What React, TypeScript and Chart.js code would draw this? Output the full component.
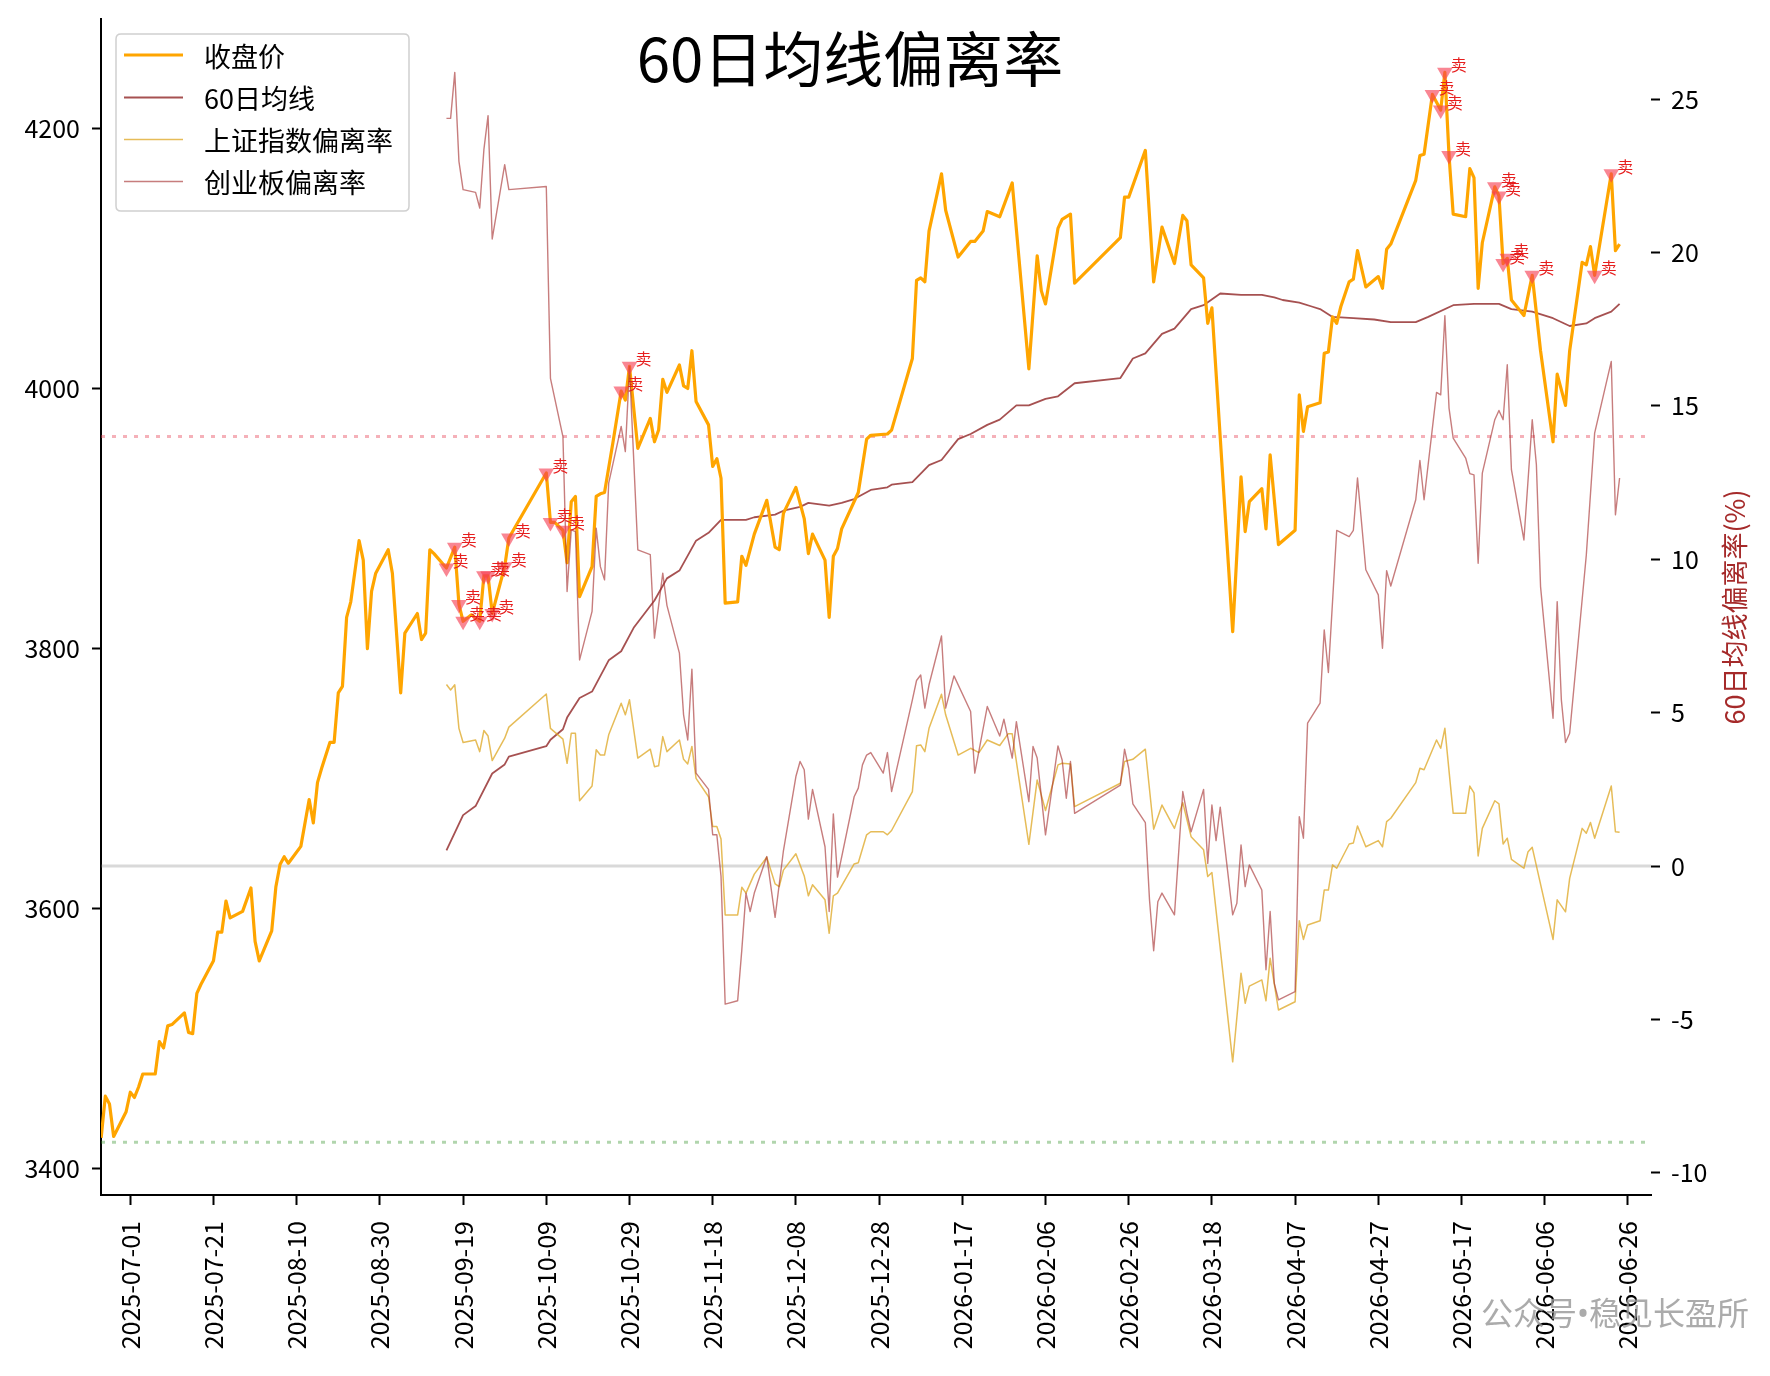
import React, { useEffect, useRef } from 'react';
import { Chart, registerables } from 'chart.js';

Chart.register(...registerables);

const FONT = '"Noto Sans CJK SC", "Noto Sans", sans-serif';
const WM_FONT = '"Noto Sans", "Noto Sans CJK SC", sans-serif';

// ---------------- data ----------------
const xTickLabels = [
  '2025-07-01', '2025-07-21', '2025-08-10', '2025-08-30', '2025-09-19', '2025-10-09',
  '2025-10-29', '2025-11-18', '2025-12-08', '2025-12-28', '2026-01-17', '2026-02-06',
  '2026-02-26', '2026-03-18', '2026-04-07', '2026-04-27', '2026-05-17', '2026-06-06', '2026-06-26',
];
const leftTicks = [3400, 3600, 3800, 4000, 4200];
const rightTicks = [-10, -5, 0, 5, 10, 15, 20, 25];

const closeDates = [
  '2025-06-24', '2025-06-25', '2025-06-26', '2025-06-27', '2025-06-30', '2025-07-01', '2025-07-02', '2025-07-03',
  '2025-07-04', '2025-07-07', '2025-07-08', '2025-07-09', '2025-07-10', '2025-07-11', '2025-07-14', '2025-07-15',
  '2025-07-16', '2025-07-17', '2025-07-18', '2025-07-21', '2025-07-22', '2025-07-23', '2025-07-24', '2025-07-25',
  '2025-07-28', '2025-07-30', '2025-07-31', '2025-08-01', '2025-08-04', '2025-08-05', '2025-08-06', '2025-08-07',
  '2025-08-08', '2025-08-11', '2025-08-13', '2025-08-14', '2025-08-15', '2025-08-16', '2025-08-18', '2025-08-19',
  '2025-08-20', '2025-08-21', '2025-08-22', '2025-08-23', '2025-08-25', '2025-08-26', '2025-08-27', '2025-08-28',
  '2025-08-29', '2025-09-01', '2025-09-02', '2025-09-04', '2025-09-05', '2025-09-08', '2025-09-09', '2025-09-10',
  '2025-09-11', '2025-09-12', '2025-09-15', '2025-09-17', '2025-09-18', '2025-09-19', '2025-09-21', '2025-09-23',
  '2025-09-24', '2025-09-25', '2025-09-26', '2025-09-29', '2025-09-30', '2025-10-09', '2025-10-10', '2025-10-11',
  '2025-10-13', '2025-10-14', '2025-10-15', '2025-10-16', '2025-10-17', '2025-10-20', '2025-10-21', '2025-10-22',
  '2025-10-23', '2025-10-25', '2025-10-27', '2025-10-28', '2025-10-29', '2025-10-31', '2025-11-03', '2025-11-04',
  '2025-11-05', '2025-11-06', '2025-11-07', '2025-11-10', '2025-11-11', '2025-11-12', '2025-11-13', '2025-11-14',
  '2025-11-17', '2025-11-18', '2025-11-19', '2025-11-20', '2025-11-21', '2025-11-24', '2025-11-25', '2025-11-26',
  '2025-11-28', '2025-12-01', '2025-12-03', '2025-12-04', '2025-12-05', '2025-12-08', '2025-12-10', '2025-12-11',
  '2025-12-12', '2025-12-15', '2025-12-16', '2025-12-17', '2025-12-18', '2025-12-19', '2025-12-23', '2025-12-25',
  '2025-12-26', '2025-12-30', '2025-12-31', '2026-01-05', '2026-01-06', '2026-01-07', '2026-01-08', '2026-01-09',
  '2026-01-12', '2026-01-13', '2026-01-16', '2026-01-19', '2026-01-20', '2026-01-22', '2026-01-23', '2026-01-26',
  '2026-01-29', '2026-02-02', '2026-02-04', '2026-02-05', '2026-02-06', '2026-02-09', '2026-02-10', '2026-02-12',
  '2026-02-13', '2026-02-24', '2026-02-25', '2026-02-26', '2026-02-28', '2026-03-02', '2026-03-04', '2026-03-06',
  '2026-03-09', '2026-03-11', '2026-03-12', '2026-03-13', '2026-03-16', '2026-03-17', '2026-03-18', '2026-03-23',
  '2026-03-25', '2026-03-26', '2026-03-27', '2026-03-30', '2026-03-31', '2026-04-01', '2026-04-03', '2026-04-07',
  '2026-04-08', '2026-04-09', '2026-04-10', '2026-04-13', '2026-04-14', '2026-04-15', '2026-04-16', '2026-04-17',
  '2026-04-18', '2026-04-20', '2026-04-21', '2026-04-22', '2026-04-24', '2026-04-27', '2026-04-28', '2026-04-29',
  '2026-04-30', '2026-05-06', '2026-05-07', '2026-05-08', '2026-05-10', '2026-05-12', '2026-05-13', '2026-05-14',
  '2026-05-15', '2026-05-18', '2026-05-19', '2026-05-20', '2026-05-21', '2026-05-22', '2026-05-25', '2026-05-26',
  '2026-05-27', '2026-05-28', '2026-05-29', '2026-06-01', '2026-06-03', '2026-06-05', '2026-06-08', '2026-06-09',
  '2026-06-11', '2026-06-12', '2026-06-15', '2026-06-16', '2026-06-17', '2026-06-18', '2026-06-22', '2026-06-23',
  '2026-06-24',
];
const closeValues = [
  3424, 3456, 3450, 3425, 3444, 3459, 3455, 3463,
  3473, 3473, 3498, 3493, 3510, 3511, 3520, 3505,
  3504, 3535, 3542, 3560, 3582, 3582, 3606, 3593,
  3598, 3616, 3575, 3560, 3583, 3617, 3634, 3640,
  3635, 3648, 3684, 3666, 3697, 3708, 3728, 3728,
  3766, 3771, 3824, 3836, 3883, 3868, 3800, 3844,
  3858, 3876, 3858, 3766, 3812, 3827, 3807, 3812,
  3876, 3873, 3862, 3878, 3834, 3821, 3826, 3821,
  3856, 3856, 3827, 3863, 3885, 3935, 3897, 3897,
  3891, 3866, 3913, 3917, 3840, 3863, 3917, 3919,
  3920, 3958, 3998, 3991, 4017, 3954, 3977, 3959,
  3968, 4007, 3997, 4018, 4002, 4000, 4029, 3990,
  3972, 3940, 3946, 3931, 3835, 3836, 3871, 3864,
  3888, 3914, 3878, 3876, 3904, 3924, 3900, 3873,
  3888, 3868, 3824, 3871, 3877, 3892, 3920, 3961,
  3964, 3965, 3968, 4023, 4083, 4085, 4082, 4121,
  4165, 4137, 4101, 4113, 4113, 4121, 4136, 4132,
  4158, 4015, 4102, 4075, 4065, 4123, 4130, 4134,
  4081, 4116, 4147, 4147, 4165, 4183, 4082, 4124,
  4096, 4133, 4129, 4095, 4085, 4050, 4062, 3813,
  3932, 3890, 3913, 3923, 3892, 3949, 3880, 3891,
  3995, 3967, 3986, 3989, 4027, 4028, 4055, 4050,
  4063, 4082, 4084, 4106, 4078, 4086, 4077, 4107,
  4111, 4160, 4179, 4180, 4226, 4214, 4243, 4179,
  4134, 4132, 4169, 4162, 4077, 4112, 4155, 4148,
  4096, 4100, 4068, 4056, 4087, 4029, 3959, 4011,
  3987, 4029, 4097, 4095, 4109, 4087, 4165, 4106,
  4111,
];

const maDates = [
  '2025-09-15', '2025-09-19', '2025-09-22', '2025-09-26', '2025-09-29', '2025-09-30', '2025-10-09', '2025-10-10',
  '2025-10-13', '2025-10-14', '2025-10-17', '2025-10-20', '2025-10-24', '2025-10-27', '2025-10-30', '2025-11-04',
  '2025-11-07', '2025-11-10', '2025-11-14', '2025-11-17', '2025-11-20', '2025-11-26', '2025-11-28', '2025-12-03',
  '2025-12-05', '2025-12-09', '2025-12-11', '2025-12-16', '2025-12-19', '2025-12-22', '2025-12-26', '2025-12-30',
  '2025-12-31', '2026-01-05', '2026-01-09', '2026-01-12', '2026-01-16', '2026-01-19', '2026-01-23', '2026-01-26',
  '2026-01-30', '2026-02-02', '2026-02-06', '2026-02-09', '2026-02-13', '2026-02-24', '2026-02-27', '2026-03-02',
  '2026-03-06', '2026-03-09', '2026-03-13', '2026-03-16', '2026-03-20', '2026-03-25', '2026-03-30', '2026-04-02',
  '2026-04-04', '2026-04-08', '2026-04-11', '2026-04-13', '2026-04-16', '2026-04-21', '2026-04-26', '2026-04-30',
  '2026-05-06', '2026-05-09', '2026-05-15', '2026-05-20', '2026-05-26', '2026-05-29', '2026-06-03', '2026-06-08',
  '2026-06-12', '2026-06-16', '2026-06-18', '2026-06-22', '2026-06-24',
];
const maValues = [
  3645, 3672, 3679, 3704, 3711, 3717, 3725, 3730,
  3738, 3747, 3762, 3767, 3791, 3798, 3816, 3837,
  3854, 3860, 3883, 3889, 3899, 3899, 3901, 3903,
  3906, 3909, 3912, 3910, 3912, 3915, 3922, 3924,
  3926, 3928, 3941, 3945, 3961, 3965, 3972, 3976,
  3987, 3987, 3992, 3994, 4004, 4008, 4023, 4027,
  4042, 4046, 4061, 4064, 4073, 4072, 4072, 4070,
  4068, 4066, 4063, 4061, 4055, 4054, 4053, 4051,
  4051, 4055, 4064, 4065, 4065, 4061, 4059, 4054,
  4048, 4050, 4054, 4059, 4065,
];

const shDates = [
  '2025-09-15', '2025-09-16', '2025-09-17', '2025-09-18', '2025-09-19', '2025-09-22', '2025-09-23', '2025-09-24',
  '2025-09-25', '2025-09-26', '2025-09-29', '2025-09-30', '2025-10-09', '2025-10-10', '2025-10-13', '2025-10-14',
  '2025-10-15', '2025-10-16', '2025-10-17', '2025-10-20', '2025-10-21', '2025-10-22', '2025-10-23', '2025-10-24',
  '2025-10-27', '2025-10-28', '2025-10-29', '2025-10-31', '2025-11-03', '2025-11-04', '2025-11-05', '2025-11-06',
  '2025-11-07', '2025-11-10', '2025-11-11', '2025-11-12', '2025-11-13', '2025-11-14', '2025-11-17', '2025-11-18',
  '2025-11-19', '2025-11-20', '2025-11-21', '2025-11-24', '2025-11-25', '2025-11-26', '2025-11-28', '2025-12-01',
  '2025-12-03', '2025-12-04', '2025-12-05', '2025-12-08', '2025-12-10', '2025-12-11', '2025-12-12', '2025-12-15',
  '2025-12-16', '2025-12-17', '2025-12-18', '2025-12-22', '2025-12-23', '2025-12-25', '2025-12-26', '2025-12-29',
  '2025-12-30', '2025-12-31', '2026-01-05', '2026-01-06', '2026-01-07', '2026-01-08', '2026-01-09', '2026-01-12',
  '2026-01-13', '2026-01-16', '2026-01-19', '2026-01-21', '2026-01-23', '2026-01-26', '2026-01-28', '2026-01-29',
  '2026-02-02', '2026-02-04', '2026-02-06', '2026-02-09', '2026-02-10', '2026-02-12', '2026-02-13', '2026-02-24',
  '2026-02-25', '2026-02-27', '2026-03-02', '2026-03-04', '2026-03-06', '2026-03-09', '2026-03-11', '2026-03-13',
  '2026-03-16', '2026-03-17', '2026-03-18', '2026-03-23', '2026-03-25', '2026-03-26', '2026-03-27', '2026-03-30',
  '2026-03-31', '2026-04-01', '2026-04-03', '2026-04-07', '2026-04-08', '2026-04-09', '2026-04-10', '2026-04-13',
  '2026-04-14', '2026-04-15', '2026-04-16', '2026-04-17', '2026-04-20', '2026-04-21', '2026-04-22', '2026-04-24',
  '2026-04-27', '2026-04-28', '2026-04-29', '2026-04-30', '2026-05-06', '2026-05-07', '2026-05-08', '2026-05-11',
  '2026-05-12', '2026-05-13', '2026-05-15', '2026-05-18', '2026-05-19', '2026-05-20', '2026-05-21', '2026-05-22',
  '2026-05-25', '2026-05-26', '2026-05-27', '2026-05-28', '2026-05-29', '2026-06-01', '2026-06-02', '2026-06-03',
  '2026-06-08', '2026-06-09', '2026-06-11', '2026-06-12', '2026-06-15', '2026-06-16', '2026-06-17', '2026-06-18',
  '2026-06-22', '2026-06-23', '2026-06-24',
];
const shValues = [
  5.92, 5.74, 5.91, 4.49, 4.03, 4.11, 3.73, 4.42,
  4.24, 3.44, 4.17, 4.53, 5.61, 4.49, 4.14, 3.35,
  4.33, 4.33, 2.13, 2.61, 3.79, 3.62, 3.62, 4.28,
  5.31, 4.93, 5.42, 3.52, 3.81, 3.24, 3.27, 4.22,
  3.73, 4.11, 3.48, 3.33, 3.9, 2.86, 2.26, 1.29,
  1.29, 0.88, -1.59, -1.59, -0.69, -0.88, -0.26, 0.29,
  -0.58, -0.67, -0.13, 0.4, -0.32, -0.97, -0.61, -1.1,
  -2.19, -0.97, -0.88, 0.07, 0.11, 1.02, 1.12, 1.12,
  1.02, 1.16, 2.43, 3.92, 3.95, 3.73, 4.49, 5.6,
  4.93, 3.62, 3.84, 3.7, 4.11, 3.93, 4.31, 4.31,
  0.71, 2.81, 1.81, 3.3, 3.35, 3.33, 1.94, 2.7,
  3.41, 3.48, 3.81, 1.2, 1.99, 1.23, 2.07, 0.96,
  0.53, -0.34, -0.21, -6.38, -3.49, -4.47, -3.91, -3.71,
  -4.39, -3.0, -4.69, -4.42, -1.78, -2.39, -1.92, -1.78,
  -0.78, -0.78, 0.04, -0.07, 0.72, 0.75, 1.31, 0.63,
  0.83, 0.63, 1.45, 1.56, 2.72, 3.19, 3.14, 4.11,
  3.84, 4.49, 1.72, 1.72, 2.61, 2.39, 0.33, 1.23,
  2.13, 2.03, 0.72, 0.91, 0.22, -0.07, 0.47, 0.61,
  -2.39, -1.1, -1.49, -0.4, 1.23, 1.07, 1.42, 0.91,
  2.61, 1.12, 1.1,
];

const cybDates = [
  '2025-09-15', '2025-09-16', '2025-09-17', '2025-09-18', '2025-09-19', '2025-09-22', '2025-09-23', '2025-09-24',
  '2025-09-25', '2025-09-26', '2025-09-29', '2025-09-30', '2025-10-09', '2025-10-10', '2025-10-13', '2025-10-14',
  '2025-10-15', '2025-10-16', '2025-10-17', '2025-10-20', '2025-10-21', '2025-10-22', '2025-10-23', '2025-10-24',
  '2025-10-27', '2025-10-28', '2025-10-29', '2025-10-31', '2025-11-03', '2025-11-04', '2025-11-06', '2025-11-07',
  '2025-11-10', '2025-11-11', '2025-11-12', '2025-11-13', '2025-11-14', '2025-11-17', '2025-11-18', '2025-11-19',
  '2025-11-20', '2025-11-21', '2025-11-24', '2025-11-25', '2025-11-26', '2025-11-27', '2025-11-28', '2025-12-01',
  '2025-12-03', '2025-12-05', '2025-12-08', '2025-12-09', '2025-12-10', '2025-12-11', '2025-12-12', '2025-12-15',
  '2025-12-16', '2025-12-17', '2025-12-18', '2025-12-22', '2025-12-23', '2025-12-24', '2025-12-25', '2025-12-26',
  '2025-12-29', '2025-12-30', '2025-12-31', '2026-01-05', '2026-01-06', '2026-01-07', '2026-01-08', '2026-01-09',
  '2026-01-12', '2026-01-13', '2026-01-15', '2026-01-19', '2026-01-20', '2026-01-23', '2026-01-26', '2026-01-27',
  '2026-01-29', '2026-01-30', '2026-02-02', '2026-02-03', '2026-02-04', '2026-02-06', '2026-02-09', '2026-02-10',
  '2026-02-11', '2026-02-12', '2026-02-13', '2026-02-24', '2026-02-25', '2026-02-26', '2026-02-27', '2026-03-02',
  '2026-03-03', '2026-03-04', '2026-03-05', '2026-03-06', '2026-03-09', '2026-03-11', '2026-03-12', '2026-03-13',
  '2026-03-16', '2026-03-17', '2026-03-18', '2026-03-19', '2026-03-20', '2026-03-23', '2026-03-24', '2026-03-25',
  '2026-03-26', '2026-03-27', '2026-03-30', '2026-03-31', '2026-04-01', '2026-04-02', '2026-04-03', '2026-04-07',
  '2026-04-08', '2026-04-09', '2026-04-10', '2026-04-13', '2026-04-14', '2026-04-15', '2026-04-17', '2026-04-20',
  '2026-04-21', '2026-04-22', '2026-04-24', '2026-04-27', '2026-04-28', '2026-04-29', '2026-04-30', '2026-05-06',
  '2026-05-07', '2026-05-08', '2026-05-11', '2026-05-12', '2026-05-13', '2026-05-14', '2026-05-15', '2026-05-18',
  '2026-05-19', '2026-05-20', '2026-05-21', '2026-05-22', '2026-05-25', '2026-05-26', '2026-05-27', '2026-05-28',
  '2026-05-29', '2026-06-01', '2026-06-03', '2026-06-04', '2026-06-05', '2026-06-08', '2026-06-09', '2026-06-10',
  '2026-06-11', '2026-06-12', '2026-06-16', '2026-06-18', '2026-06-22', '2026-06-23', '2026-06-24',
];
const cybValues = [
  24.37, 24.37, 25.87, 22.97, 22.05, 21.96, 21.45, 23.35,
  24.46, 20.44, 22.86, 22.05, 22.15, 15.9, 14.0, 8.95,
  10.96, 10.9, 6.72, 8.3, 11.01, 9.76, 9.33, 12.48,
  14.33, 13.51, 16.28, 10.31, 10.15, 7.43, 9.55, 8.5,
  6.94, 4.93, 4.11, 6.42, 3.03, 2.5, 1.02, 1.02,
  -0.33, -4.5, -4.39, -2.73, -0.88, -1.48, -0.88, 0.31,
  -1.67, 0.5, 2.92, 3.41, 3.14, 1.53, 2.5, 0.63,
  -1.48, 1.7, -0.36, 2.26, 2.54, 3.3, 3.62, 3.7,
  3.03, 3.7, 2.43, 5.42, 6.05, 6.23, 5.15, 5.91,
  7.5, 5.15, 6.2, 5.04, 3.03, 5.2, 4.24, 4.79,
  3.52, 4.71, 2.1, 3.9, 3.52, 1.02, 3.92, 3.46,
  2.21, 3.41, 1.72, 2.64, 3.81, 3.19, 2.03, 1.42,
  -1.1, -2.76, -1.16, -0.88, -1.59, 2.43, 1.72, 1.12,
  2.5, 0.09, 1.99, 0.83, 1.92, -1.59, -1.21, 0.69,
  -0.67, 0.04, -0.78, -3.38, -1.48, -3.82, -4.36, -4.09,
  1.61, 0.91, 4.66, 5.31, 7.7, 6.31, 10.94, 10.74,
  10.94, 12.65, 9.66, 8.84, 7.1, 9.63, 9.13, 11.94,
  13.22, 11.94, 15.44, 15.36, 17.94, 14.93, 13.95, 13.3,
  12.79, 12.75, 9.87, 12.81, 14.55, 14.85, 14.55, 16.34,
  12.92, 10.63, 14.55, 13.08, 9.11, 4.82, 8.62, 5.42,
  4.03, 4.33, 10.14, 14.11, 16.45, 11.45, 12.65,
];

const sellDates = [
  '2025-09-15', '2025-09-17', '2025-09-18', '2025-09-19', '2025-09-23', '2025-09-24', '2025-09-25', '2025-09-26',
  '2025-09-29', '2025-09-30', '2025-10-09', '2025-10-10', '2025-10-13', '2025-10-27', '2025-10-29',
  '2026-05-10', '2026-05-12', '2026-05-13', '2026-05-14', '2026-05-25', '2026-05-26', '2026-05-27', '2026-05-28',
  '2026-06-03', '2026-06-18', '2026-06-22',
];
const sellValues = [
  3862, 3878, 3834, 3821, 3821, 3856, 3856, 3827,
  3863, 3885, 3935, 3897, 3891, 3998, 4017,
  4226, 4214, 4243, 4179, 4155, 4148, 4096, 4100,
  4087, 4087, 4165,
];

const refLevels = [14, 0, -9];

// ---------------- helpers / styles ----------------
const dayOf = (s: string) => {
  const [y, m, d] = s.split('-').map(Number);
  return (Date.UTC(y, m - 1, d) - Date.UTC(2025, 6, 1)) / 86400000;
};
const toPoints = (dates: string[], vals: number[]) => dates.map((d, i) => ({ x: dayOf(d), y: vals[i] }));

const COLORS = {
  close: '#FFA500',
  ma: 'rgba(150,50,50,0.85)',
  sh: 'rgba(222,165,32,0.75)',
  cyb: 'rgba(165,45,45,0.62)',
  sell: 'rgba(245,60,80,0.62)',
  sellText: '#e61e1e',
  axisTitle: '#a52a2a',
};
const refStyles = [
  { color: 'rgba(230,60,80,0.4)', width: 3, dash: [4, 7] },
  { color: 'rgba(128,128,128,0.3)', width: 3, dash: [] as number[] },
  { color: 'rgba(60,150,50,0.4)', width: 3, dash: [4, 7] },
];
const legendItems = [
  { label: '收盘价', color: COLORS.close, width: 3 },
  { label: '60日均线', color: COLORS.ma, width: 1.8 },
  { label: '上证指数偏离率', color: COLORS.sh, width: 1.5 },
  { label: '创业板偏离率', color: COLORS.cyb, width: 1.4 },
];

const X_MIN = -7.04;
const X_MAX = 365.55;

const decorPlugin = {
  id: 'decor',
  beforeDatasetsDraw(chart: any) {
    const { ctx, chartArea: a, scales } = chart;
    ctx.save();
    ctx.beginPath();
    ctx.rect(a.left, a.top, a.right - a.left, a.bottom - a.top);
    ctx.clip();
    refLevels.forEach((lv, i) => {
      const st = refStyles[i];
      const py = scales.y1.getPixelForValue(lv);
      ctx.strokeStyle = st.color;
      ctx.lineWidth = st.width;
      ctx.setLineDash(st.dash);
      ctx.beginPath();
      ctx.moveTo(a.left, py);
      ctx.lineTo(a.right, py);
      ctx.stroke();
    });
    ctx.restore();
  },
  afterDatasetsDraw(chart: any) {
    const { ctx, scales } = chart;
    ctx.save();
    // sell labels
    ctx.font = `16px ${FONT}`;
    ctx.fillStyle = COLORS.sellText;
    ctx.textAlign = 'left';
    ctx.textBaseline = 'bottom';
    sellDates.forEach((d, i) => {
      const px = scales.x.getPixelForValue(dayOf(d));
      const py = scales.y.getPixelForValue(sellValues[i]);
      ctx.fillText('卖', px + 6, py + 1);
    });
    // legend
    const bx = 116, by = 34, bw = 293, bh = 177, r = 5;
    ctx.beginPath();
    ctx.moveTo(bx + r, by);
    ctx.lineTo(bx + bw - r, by);
    ctx.quadraticCurveTo(bx + bw, by, bx + bw, by + r);
    ctx.lineTo(bx + bw, by + bh - r);
    ctx.quadraticCurveTo(bx + bw, by + bh, bx + bw - r, by + bh);
    ctx.lineTo(bx + r, by + bh);
    ctx.quadraticCurveTo(bx, by + bh, bx, by + bh - r);
    ctx.lineTo(bx, by + r);
    ctx.quadraticCurveTo(bx, by, bx + r, by);
    ctx.closePath();
    ctx.fillStyle = 'rgba(255,255,255,0.85)';
    ctx.fill();
    ctx.strokeStyle = '#d0d0d0';
    ctx.lineWidth = 1.5;
    ctx.stroke();
    const rows = [55, 97.5, 139.5, 181.5];
    ctx.font = `27px ${FONT}`;
    ctx.textBaseline = 'middle';
    ctx.textAlign = 'left';
    legendItems.forEach((it, i) => {
      ctx.strokeStyle = it.color;
      ctx.lineWidth = it.width;
      ctx.beginPath();
      ctx.moveTo(124, rows[i]);
      ctx.lineTo(183, rows[i]);
      ctx.stroke();
      ctx.fillStyle = '#000';
      ctx.fillText(it.label, 204, rows[i] + 1.5);
    });
    ctx.restore();
  },
  afterDraw(chart: any) {
    const { ctx, chartArea: a } = chart;
    ctx.save();
    // title
    ctx.fillStyle = '#000';
    ctx.font = `60px ${FONT}`;
    ctx.textAlign = 'center';
    ctx.textBaseline = 'middle';
    ctx.fillText('60日均线偏离率', 850, 59);
    // right axis title
    ctx.save();
    ctx.translate(1735, (a.top + a.bottom) / 2);
    ctx.rotate(-Math.PI / 2);
    ctx.font = `27px ${FONT}`;
    ctx.fillStyle = COLORS.axisTitle;
    ctx.textAlign = 'center';
    ctx.textBaseline = 'middle';
    ctx.fillText('60日均线偏离率(%)', 0, 0);
    ctx.restore();
    // watermark
    ctx.font = `32px ${WM_FONT}`;
    ctx.fillStyle = 'rgba(150,150,150,0.8)';
    ctx.textAlign = 'right';
    ctx.textBaseline = 'middle';
    ctx.fillText('公众号•稳见长盈所', 1749, 1316);
    ctx.restore();
  },
};

const tickFont = { family: FONT, size: 25 };

export default function App() {
  const ref = useRef<HTMLCanvasElement | null>(null);

  useEffect(() => {
    if (!ref.current) return;
    const lineBase = { pointRadius: 0, pointHoverRadius: 0, tension: 0, fill: false, borderJoinStyle: 'round' as const };
    const chart = new Chart(ref.current, {
      type: 'line',
      data: {
        datasets: [
          {
            type: 'scatter',
            label: 'sell',
            data: toPoints(sellDates, sellValues),
            yAxisID: 'y',
            showLine: false,
            pointStyle: 'triangle',
            rotation: 180,
            pointRotation: 180,
            pointRadius: 9,
            pointHoverRadius: 9,
            pointBackgroundColor: COLORS.sell,
            pointBorderWidth: 0,
            order: 0,
          } as any,
          { ...lineBase, label: '创业板偏离率', data: toPoints(cybDates, cybValues), yAxisID: 'y1', borderColor: COLORS.cyb, borderWidth: 1.4, order: 1 },
          { ...lineBase, label: '上证指数偏离率', data: toPoints(shDates, shValues), yAxisID: 'y1', borderColor: COLORS.sh, borderWidth: 1.5, order: 2 },
          { ...lineBase, label: '收盘价', data: toPoints(closeDates, closeValues), yAxisID: 'y', borderColor: COLORS.close, borderWidth: 3.2, order: 3 },
          { ...lineBase, label: '60日均线', data: toPoints(maDates, maValues), yAxisID: 'y', borderColor: COLORS.ma, borderWidth: 1.8, order: 4 },
        ],
      },
      options: {
        responsive: false,
        maintainAspectRatio: false,
        animation: false,
        events: [],
        layout: { padding: { top: 19, left: 0, right: 0, bottom: 0 } },
        plugins: { legend: { display: false }, title: { display: false }, tooltip: { enabled: false } },
        scales: {
          x: {
            type: 'linear',
            position: 'bottom',
            min: X_MIN,
            max: X_MAX,
            afterBuildTicks: (scale: any) => {
              scale.ticks = xTickLabels.map((s) => ({ value: dayOf(s) }));
            },
            afterFit: (scale: any) => {
              scale.height = 181;
              scale.paddingLeft = 0;
              scale.paddingRight = 0;
            },
            ticks: {
              autoSkip: false,
              minRotation: 90,
              maxRotation: 90,
              padding: 16,
              color: '#000',
              font: tickFont,
              callback: (v: any) => {
                const idx = xTickLabels.findIndex((s) => dayOf(s) === v);
                return idx >= 0 ? xTickLabels[idx] : '';
              },
            },
            grid: { drawOnChartArea: false, drawTicks: true, tickLength: 10, tickWidth: 2, tickColor: '#000' },
            border: { display: true, color: '#000', width: 2 },
          },
          y: {
            type: 'linear',
            position: 'left',
            min: 3380,
            max: 4284,
            afterBuildTicks: (scale: any) => {
              scale.ticks = leftTicks.map((v) => ({ value: v }));
            },
            afterFit: (scale: any) => {
              scale.width = 101;
              scale.paddingTop = 0;
              scale.paddingBottom = 0;
            },
            ticks: { padding: 12, color: '#000', font: tickFont, callback: (v: any) => String(v) },
            grid: { drawOnChartArea: false, drawTicks: true, tickLength: 9, tickWidth: 2, tickColor: '#000' },
            border: { display: true, color: '#000', width: 2 },
          },
          y1: {
            type: 'linear',
            position: 'right',
            min: -10.72,
            max: 27.61,
            afterBuildTicks: (scale: any) => {
              scale.ticks = rightTicks.map((v) => ({ value: v }));
            },
            afterFit: (scale: any) => {
              scale.width = 119;
              scale.paddingTop = 0;
              scale.paddingBottom = 0;
            },
            ticks: { padding: 11, color: '#000', font: tickFont, callback: (v: any) => String(v) },
            grid: { drawOnChartArea: false, drawTicks: true, tickLength: 9, tickWidth: 2, tickColor: '#000' },
            border: { display: false },
          },
        },
      } as any,
      plugins: [decorPlugin],
    });
    return () => chart.destroy();
  }, []);

  return (
    <div style={{ position: 'fixed', left: 0, top: 0, width: 1770, height: 1376, background: '#fff' }}>
      <canvas ref={ref} width={1770} height={1376} style={{ display: 'block', width: 1770, height: 1376 }} />
    </div>
  );
}
